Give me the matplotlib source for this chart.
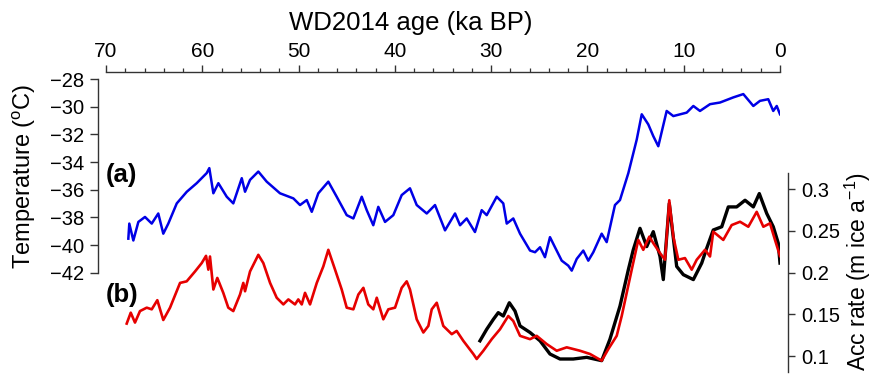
import matplotlib
matplotlib.use("Agg")
import matplotlib.pyplot as plt
from matplotlib.ticker import MultipleLocator

plt.rcParams['font.family'] = ['Liberation Sans', 'DejaVu Sans']
plt.rcParams['mathtext.fontset'] = 'custom'
plt.rcParams['mathtext.rm'] = 'Liberation Sans'
plt.rcParams['mathtext.it'] = 'Liberation Sans:italic'
plt.rcParams['mathtext.bf'] = 'Liberation Sans:bold'

# ---- data ----
temp_age = [67.68, 67.58, 67.16, 66.64, 65.95, 65.25, 64.57, 64.05, 63.53, 62.65,
            61.61, 60.58, 59.54, 59.27, 58.85, 58.33, 57.46, 56.78, 55.90, 55.56,
            55.04, 54.18, 53.31, 51.93, 50.54, 49.85, 49.15, 48.63, 47.95, 46.91,
            46.04, 45.00, 44.31, 43.44, 42.92, 42.24, 41.72, 41.02, 40.16, 39.29,
            38.43, 37.73, 36.69, 35.83, 34.79, 33.75, 33.23, 32.54, 31.68, 30.98,
            30.46, 29.42, 28.74, 28.38, 27.70, 27.00, 25.96, 25.44, 24.92, 24.41,
            23.89, 23.37, 22.67, 21.99, 21.63, 21.11, 20.43, 19.91, 19.39, 18.52,
            18.00, 17.14, 16.62, 15.75, 14.88, 14.36, 13.68, 13.16, 12.64, 11.77,
            11.08, 9.69, 9.00, 8.31, 7.27, 6.23, 4.85, 3.81, 2.77, 2.08,
            1.22, 0.70, 0.34, 0.00]
temp_val = [-39.54, -38.45, -39.67, -38.33, -37.97, -38.45, -37.72, -39.18, -38.45, -36.99,
            -36.15, -35.53, -34.80, -34.44, -36.26, -35.53, -36.51, -36.99, -35.17, -36.15,
            -35.29, -34.69, -35.42, -36.26, -36.63, -37.11, -36.75, -37.60, -36.26, -35.42,
            -36.51, -37.84, -38.08, -36.51, -37.48, -38.57, -37.24, -38.33, -37.84, -36.39,
            -35.90, -37.11, -37.72, -37.11, -38.94, -37.72, -38.57, -38.08, -39.06, -37.48,
            -37.84, -36.51, -36.99, -38.45, -38.08, -39.18, -40.40, -40.52, -40.16, -40.88,
            -39.43, -40.16, -41.13, -41.49, -41.85, -41.00, -40.40, -41.13, -40.52, -39.18,
            -39.79, -37.11, -36.75, -34.80, -32.38, -30.55, -31.28, -32.13, -32.86, -30.31,
            -30.68, -30.43, -29.95, -30.31, -29.82, -29.70, -29.33, -29.09, -29.95, -29.58,
            -29.46, -30.31, -29.95, -30.55]

acc_red_age = [67.85, 67.43, 66.99, 66.47, 65.77, 65.25, 64.67, 64.05, 63.35, 62.31,
               61.62, 60.75, 60.06, 59.61, 59.37, 59.20, 58.85, 58.44, 57.82, 57.30,
               56.78, 56.08, 55.74, 55.56, 55.04, 54.18, 53.66, 52.96, 52.27, 51.58,
               51.06, 50.37, 50.03, 49.67, 49.33, 48.81, 48.11, 47.43, 46.91, 46.21,
               45.52, 45.00, 44.31, 43.79, 43.27, 42.76, 42.24, 41.88, 41.20, 40.68,
               39.98, 39.29, 38.77, 38.43, 37.73, 37.04, 36.52, 36.17, 35.65, 34.97,
               34.09, 33.58, 32.89, 31.85, 31.50, 30.81, 29.94, 29.08, 28.22, 27.70,
               27.00, 25.96, 25.27, 24.23, 23.19, 22.15, 20.77, 19.73, 18.52, 17.83,
               16.96, 16.44, 15.92, 15.40, 14.72, 14.20, 13.57, 13.16, 12.46, 11.94,
               11.50, 11.08, 10.56, 9.87, 9.17, 8.65, 7.79, 7.27, 6.93, 5.89,
               5.02, 4.15, 3.29, 2.42, 1.73, 1.04, 0.52, 0.00]
acc_red_val = [0.1389, 0.1520, 0.1401, 0.1539, 0.1580, 0.1560, 0.1670, 0.1432, 0.1580, 0.1877,
               0.1896, 0.2015, 0.2115, 0.2202, 0.2036, 0.2194, 0.1798, 0.1937, 0.1758, 0.1580,
               0.1539, 0.1738, 0.1877, 0.1777, 0.2015, 0.2214, 0.2115, 0.1877, 0.1699, 0.1619,
               0.1679, 0.1619, 0.1679, 0.1619, 0.1758, 0.1619, 0.1877, 0.2075, 0.2274, 0.2036,
               0.1798, 0.1580, 0.1560, 0.1738, 0.1818, 0.1619, 0.1560, 0.1699, 0.1440, 0.1560,
               0.1580, 0.1818, 0.1896, 0.1798, 0.1440, 0.1282, 0.1361, 0.1560, 0.1639, 0.1361,
               0.1262, 0.1301, 0.1182, 0.1024, 0.0964, 0.1063, 0.1202, 0.1321, 0.1480, 0.1420,
               0.1242, 0.1202, 0.1242, 0.1143, 0.1063, 0.1104, 0.1063, 0.1024, 0.0944, 0.1083,
               0.1242, 0.1480, 0.1758, 0.2036, 0.2393, 0.2274, 0.2432, 0.2354, 0.2235, 0.2155,
               0.2869, 0.2432, 0.2155, 0.2175, 0.2036, 0.2155, 0.2274, 0.2194, 0.2492, 0.2393,
               0.2571, 0.2611, 0.2551, 0.2730, 0.2551, 0.2592, 0.2393, 0.2200]

acc_blk_age = [31.16, 30.46, 29.77, 29.26, 28.74, 28.11, 27.52, 27.00, 25.96, 24.92,
               23.89, 22.85, 21.47, 20.07, 18.52, 17.66, 16.62, 15.75, 15.24, 14.54,
               13.84, 13.16, 12.46, 12.12, 11.50, 10.73, 10.04, 9.00, 8.13, 7.61,
               6.93, 6.05, 5.37, 4.50, 3.63, 2.77, 2.15, 1.38, 0.70, 0.18, 0.00]
acc_blk_val = [0.1182, 0.1321, 0.1440, 0.1520, 0.1480, 0.1639, 0.1539, 0.1361, 0.1282, 0.1182,
               0.1024, 0.0964, 0.0964, 0.0984, 0.0944, 0.1202, 0.1599, 0.2036, 0.2274, 0.2532,
               0.2313, 0.2492, 0.2194, 0.1917, 0.2830, 0.2075, 0.1976, 0.1917, 0.2115, 0.2294,
               0.2512, 0.2551, 0.2789, 0.2789, 0.2869, 0.2789, 0.2949, 0.2711, 0.2551, 0.2354,
               0.2115]

age_ticks = [70, 60, 50, 40, 30, 20, 10, 0]
temp_ticks = [-28, -30, -32, -34, -36, -38, -40, -42]
acc_ticks = [0.1, 0.15, 0.2, 0.25, 0.3]
acc_tick_labels = ['0.1', '0.15', '0.2', '0.25', '0.3']

# ---- layout ----
W, H = 872, 379
fig = plt.figure(figsize=(W / 100, H / 100), dpi=100)

def fx(px):
    return px / W

def fy(py):
    return 1 - py / H

x_left, x_right = 106, 780
ax1 = fig.add_axes([fx(x_left), fy(272.7), (x_right - x_left) / W, (272.7 - 79) / H])
ax2 = fig.add_axes([fx(x_left), fy(372), (x_right - x_left) / W, (372 - 173) / H])
for a in (ax1, ax2):
    a.patch.set_alpha(0)
    a.set_xlim(70, 0)

spine_color = '#333333'

# temperature axes
ax1.set_ylim(-42, -28)
ax1.plot(temp_age, temp_val, color='#0000e6', lw=1.8, zorder=3)
for s in ('right', 'bottom'):
    ax1.spines[s].set_visible(False)
ax1.spines['left'].set_position(('outward', 5.5))
ax1.spines['top'].set_position(('outward', 5.3))
for s in ('left', 'top'):
    ax1.spines[s].set_color(spine_color)
    ax1.spines[s].set_linewidth(1.0)
ax1.set_yticks(temp_ticks)
ax1.set_yticklabels([f'\u2212{abs(t)}' for t in temp_ticks])
ax1.tick_params(axis='y', direction='out', length=6, width=1.0, color=spine_color,
                labelsize=14.5, pad=4)
ax1.xaxis.tick_top()
ax1.set_xticks(age_ticks)
ax1.xaxis.set_minor_locator(MultipleLocator(2))
ax1.tick_params(axis='x', which='major', direction='out', length=5, width=1.0,
                color=spine_color, labelsize=15, pad=3)
ax1.tick_params(axis='x', which='minor', direction='out', length=3, width=0.9,
                color=spine_color)

# accumulation axes
ax2.set_ylim(0.0808, 0.3196)
ax2.plot(acc_blk_age, acc_blk_val, color='black', lw=2.4, zorder=2)
ax2.plot(acc_red_age, acc_red_val, color='#e60000', lw=1.9, zorder=3)
for s in ('left', 'top', 'bottom'):
    ax2.spines[s].set_visible(False)
ax2.spines['right'].set_position(('outward', 6))
ax2.spines['right'].set_color(spine_color)
ax2.spines['right'].set_linewidth(1.0)
ax2.set_xticks([])
ax2.yaxis.tick_right()
ax2.set_yticks(acc_ticks)
ax2.set_yticklabels(acc_tick_labels)
ax2.tick_params(axis='y', direction='out', length=5, width=1.0, color=spine_color,
                labelsize=14.5, pad=4)

# texts
fig.text(fx(411), fy(30), 'WD2014 age (ka BP)', ha='center', va='baseline', fontsize=18.5)
fig.text(fx(24), fy(176), 'Temperature ($^{\\mathrm{o}}$C)', rotation=90,
         ha='center', va='center', fontsize=17)
fig.text(fx(858), fy(272), 'Acc rate (m ice a$^{\\mathrm{-1}}$)', rotation=90,
         ha='center', va='center', fontsize=16.5)
fig.text(fx(106), fy(175), '(a)', ha='left', va='center', fontsize=18.5, fontweight='bold')
fig.text(fx(106), fy(295), '(b)', ha='left', va='center', fontsize=18.5, fontweight='bold')

fig.savefig('out.png', dpi=100)
